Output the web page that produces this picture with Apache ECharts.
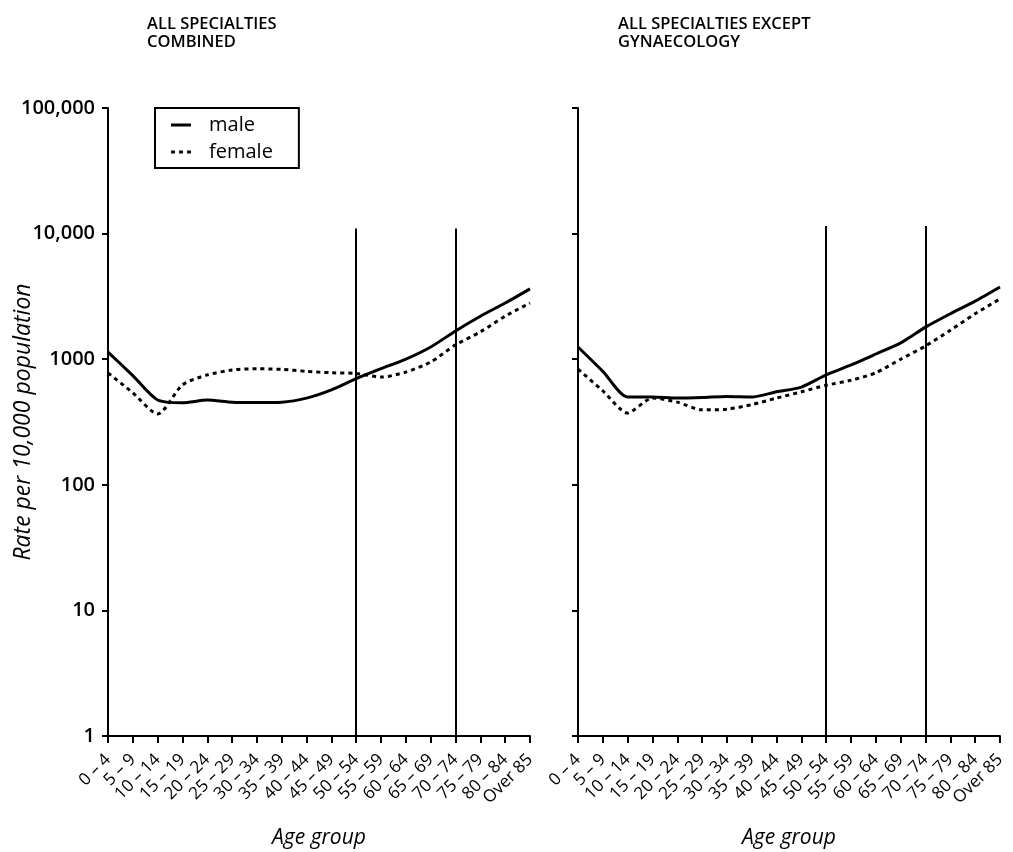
<!DOCTYPE html>
<html>
<head>
<meta charset="utf-8">
<script src="https://cdn.jsdelivr.net/npm/echarts@6/dist/echarts.min.js"></script>
<style>
  html, body { margin: 0; padding: 0; background: #fff; }
  #chart { width: 1013px; height: 852px; }
</style>
</head>
<body>
<div id="chart"></div>
<script>
// Age groups along the x axis
const ageGroups = ['0 – 4', '5 – 9', '10 – 14', '15 – 19', '20 – 24', '25 – 29', '30 – 34',
  '35 – 39', '40 – 44', '45 – 49', '50 – 54', '55 – 59', '60 – 64', '65 – 69',
  '70 – 74', '75 – 79', '80 – 84', 'Over 85'];

// Rate per 10,000 population, all specialties combined
const combinedMale = [1140, 740, 473, 450, 473, 455, 452, 455, 490, 570, 700, 840, 1000, 1250, 1680, 2200, 2800, 3630];
const combinedFemale = [777, 540, 366, 623, 750, 820, 840, 830, 800, 780, 770, 720, 790, 950, 1300, 1650, 2200, 2800];

// Rate per 10,000 population, all specialties except gynaecology
const exceptMale = [1250, 800, 500, 500, 490, 495, 505, 500, 550, 600, 750, 900, 1100, 1350, 1800, 2300, 2900, 3760];
const exceptFemale = [835, 560, 373, 490, 455, 395, 400, 435, 490, 550, 620, 680, 780, 1000, 1275, 1700, 2300, 3020];

// Panel titles and the age-band boundaries marked by vertical lines
const panelTitles = ['ALL SPECIALTIES\nCOMBINED', 'ALL SPECIALTIES EXCEPT\nGYNAECOLOGY'];
const boundaryGroups = ['50 – 54', '70 – 74'];
const boundaryTop = [11000, 11500];

const FONT = '"Open Sans", "DejaVu Sans", sans-serif';
const tickNames = { 1: '1', 10: '10', 100: '100', 1000: '1000', 10000: '10,000', 100000: '100,000' };

function xAxis(gridIndex) {
  return {
    type: 'category', gridIndex, data: ageGroups, boundaryGap: false,
    axisLine: { lineStyle: { color: '#000', width: 2 } },
    axisTick: { show: true, length: 7, lineStyle: { color: '#000', width: 2 }, alignWithLabel: true },
    axisLabel: { interval: 0, rotate: 45, color: '#000', fontFamily: FONT, fontSize: 17, margin: 21 },
    name: 'Age group', nameLocation: 'middle', nameGap: 92, nameMoveOverlap: false,
    nameTextStyle: { color: '#000', fontFamily: FONT, fontSize: 21, fontStyle: 'italic' },
    splitLine: { show: false }
  };
}

function yAxis(gridIndex, showLabels) {
  return {
    type: 'log', logBase: 10, gridIndex, min: 1, max: 100000,
    axisLine: { show: true, lineStyle: { color: '#000', width: 2 } },
    axisTick: { show: true, length: 6, lineStyle: { color: '#000', width: 2 } },
    axisLabel: {
      show: showLabels, color: '#000', fontFamily: FONT, fontSize: 20, fontWeight: 600, margin: 13,
      formatter: v => tickNames[Math.round(v)] || ''
    },
    splitLine: { show: false },
    minorTick: { show: false },
    name: showLabels ? 'Rate per 10,000 population' : '',
    nameLocation: 'middle', nameGap: 73, nameRotate: 90, nameMoveOverlap: false,
    nameTextStyle: { color: '#000', fontFamily: FONT, fontSize: 23, fontStyle: 'italic' }
  };
}

function boundaryLines(k) {
  return {
    silent: true, symbol: 'none', label: { show: false },
    lineStyle: { color: '#000', width: 2, type: 'solid' },
    data: boundaryGroups.map(g => [{ coord: [g, boundaryTop[k]] }, { coord: [g, 1] }])
  };
}

function lineSeries(name, data, k, dotted, withMarks) {
  const s = {
    name, type: 'line', xAxisIndex: k, yAxisIndex: k, data,
    smooth: 0.25, symbol: 'none', showSymbol: false,
    lineStyle: dotted ? { color: '#000', width: 3, type: [4, 4] } : { color: '#000', width: 3, type: 'solid' },
    itemStyle: { color: '#000' },
    z: 3
  };
  if (withMarks) s.markLine = boundaryLines(k);
  return s;
}

const titleStyle = { fontFamily: FONT, fontSize: 16.5, fontWeight: 600, color: '#000', lineHeight: 18 };

const chart = echarts.init(document.getElementById('chart'), null, { renderer: 'canvas' });
chart.setOption({
  backgroundColor: '#fff',
  animation: false,
  title: [
    { text: panelTitles[0], left: 142, top: 10, textStyle: titleStyle },
    { text: panelTitles[1], left: 613, top: 10, textStyle: titleStyle }
  ],
  legend: {
    data: [
      { name: 'male', icon: 'path://M0,0h20v3h-20z' },
      { name: 'female', icon: 'path://M0,0h4v3h-4zM8,0h4v3h-4zM16,0h4v3h-4z' }
    ],
    orient: 'vertical', left: 155, top: 108,
    itemWidth: 20, itemHeight: 3, itemGap: 7,
    padding: [7, 26, 6, 16],
    borderColor: '#000', borderWidth: 2, borderRadius: 0,
    textStyle: { fontFamily: FONT, fontSize: 20, color: '#000', padding: [0, 0, 0, 13] },
    selectedMode: false
  },
  grid: [
    { left: 108, top: 108, width: 422, height: 628, outerBoundsMode: 'none', containLabel: false },
    { left: 578, top: 108, width: 422, height: 628, outerBoundsMode: 'none', containLabel: false }
  ],
  xAxis: [xAxis(0), xAxis(1)],
  yAxis: [yAxis(0, true), yAxis(1, false)],
  series: [
    lineSeries('male', combinedMale, 0, false, true),
    lineSeries('female', combinedFemale, 0, true, false),
    lineSeries('male', exceptMale, 1, false, true),
    lineSeries('female', exceptFemale, 1, true, false)
  ]
});
</script>
</body>
</html>
